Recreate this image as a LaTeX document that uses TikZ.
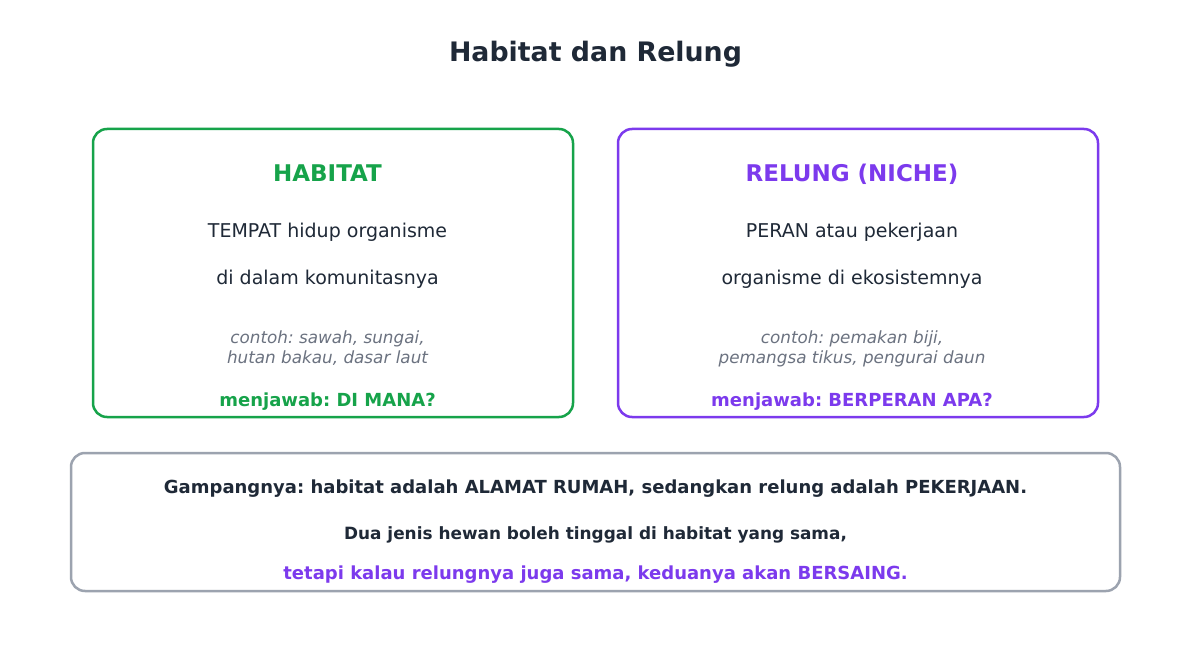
\documentclass[tikz,border=0pt]{standalone}
\usepackage{fontspec}
\setmainfont{DejaVu Sans}
\definecolor{cgreen}{HTML}{16A34A}
\definecolor{cpurple}{HTML}{7C3AED}
\definecolor{cdark}{HTML}{1F2937}
\definecolor{cgray}{HTML}{6B7280}
\definecolor{cborder}{HTML}{9CA3AF}
\tikzset{
  card/.style={rounded corners=14pt, line width=2.5pt, fill=white},
  txt/.style={anchor=base, inner sep=0pt, text=cdark},
}
\newcommand{\fs}[1]{\fontsize{#1}{#1}\selectfont}
\frenchspacing
\begin{document}
\begin{tikzpicture}[x=1pt,y=-1pt]
\useasboundingbox[fill=white] (0,0) rectangle (1191,652);
\node[txt] (title) at (595.5,62) {\fs{26.8}\bfseries Habitat dan Relung};
% left card
\draw[card, draw=cgreen] (93,129) rectangle (573,417);
\node[txt, text=cgreen] (h1) at (327.5,182) {\fs{23}\bfseries HABITAT};
\node[txt] (h2) at (327.5,238) {\fs{19}TEMPAT hidup organisme};
\node[txt] (h3) at (327.5,285) {\fs{19}di dalam komunitasnya};
\node[txt, text=cgray] (h4) at (327.5,343) {\fs{16.8}\itshape contoh: sawah, sungai,};
\node[txt, text=cgray] (h5) at (327.5,363) {\fs{16.8}\itshape hutan bakau, dasar laut};
\node[txt, text=cgreen] (h6) at (327.5,406) {\fs{18}\bfseries menjawab: DI MANA?};
% right card
\draw[card, draw=cpurple] (618,129) rectangle (1098,417);
\node[txt, text=cpurple] (r1) at (852,182) {\fs{23}\bfseries RELUNG (NICHE)};
\node[txt] (r2) at (852,238) {\fs{19}PERAN atau pekerjaan};
\node[txt] (r3) at (852,285) {\fs{19}organisme di ekosistemnya};
\node[txt, text=cgray] (r4) at (852,343) {\fs{16.8}\itshape contoh: pemakan biji,};
\node[txt, text=cgray] (r5) at (852,363) {\fs{16.8}\itshape pemangsa tikus, pengurai daun};
\node[txt, text=cpurple] (r6) at (852,406) {\fs{18}\bfseries menjawab: BERPERAN APA?};
% bottom card
\draw[card, draw=cborder] (71,453) rectangle (1120,591);
\node[txt] (b1) at (595.5,493) {\fs{18}\bfseries Gampangnya: habitat adalah ALAMAT RUMAH, sedangkan relung adalah PEKERJAAN.};
\node[txt] (b2) at (595.5,539) {\fs{16.9}\bfseries Dua jenis hewan boleh tinggal di habitat yang sama,};
\node[txt, text=cpurple] (b3) at (595.5,579) {\fs{18}\bfseries tetapi kalau relungnya juga sama, keduanya akan BERSAING.};
\end{tikzpicture}
\end{document}
